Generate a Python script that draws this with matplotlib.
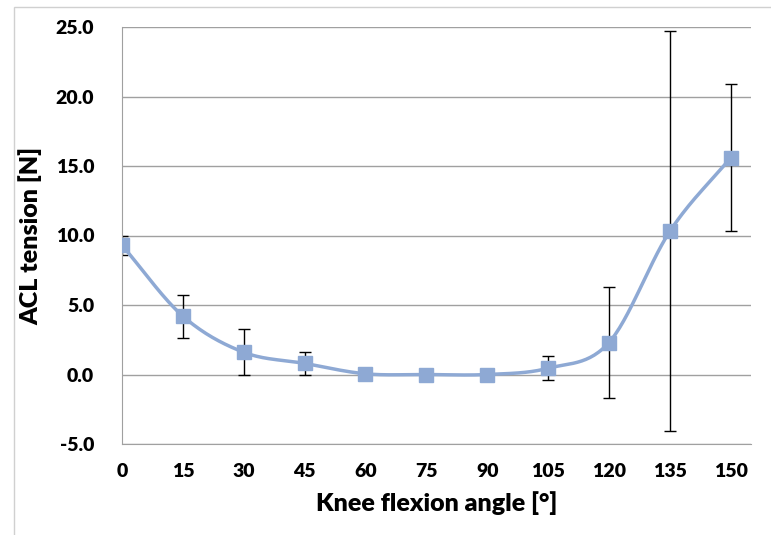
import numpy as np
import matplotlib
matplotlib.use("Agg")
import matplotlib.pyplot as plt
from matplotlib.patches import Rectangle

angles = [0, 15, 30, 45, 60, 75, 90, 105, 120, 135, 150]
tension = [9.3, 4.2, 1.6, 0.8, 0.05, 0.0, 0.0, 0.45, 2.3, 10.3, 15.6]
tension_sd = [0.7, 1.55, 1.65, 0.8, 0.0, 0.0, 0.0, 0.85, 4.0, 14.4, 5.3]
y_ticks = [-5, 0, 5, 10, 15, 20, 25]

plt.rcParams['font.family'] = ['Lato', 'DejaVu Sans']
weight = 'heavy'


def smooth_curve(x, y, n=30):
    # Catmull-Rom style curve through the points, like Excel's smoothed line
    x = np.asarray(x, float)
    y = np.asarray(y, float)
    px = np.concatenate([[2 * x[0] - x[1]], x, [2 * x[-1] - x[-2]]])
    py = np.concatenate([[2 * y[0] - y[1]], y, [2 * y[-1] - y[-2]]])
    xs, ys = [], []
    t = np.linspace(0, 1, n)
    for i in range(1, len(px) - 2):
        p0, p1, p2, p3 = [np.array([px[j], py[j]]) for j in range(i - 1, i + 3)]
        c1 = p1 + (p2 - p0) / 6
        c2 = p2 - (p3 - p1) / 6
        pts = ((1 - t)[:, None] ** 3 * p1 + 3 * ((1 - t) ** 2 * t)[:, None] * c1
               + 3 * ((1 - t) * t ** 2)[:, None] * c2 + (t ** 3)[:, None] * p2)
        xs.extend(pts[:, 0])
        ys.extend(pts[:, 1])
    return np.array(xs), np.array(ys)


fig = plt.figure(figsize=(7.71, 5.35), dpi=100)
fig.patches.append(Rectangle((14 / 771, -0.01), 1.0, 1 - 7 / 535 + 0.01,
                             transform=fig.transFigure, fill=False,
                             edgecolor='#d0d0d0', linewidth=1))
ax = fig.add_axes([122 / 771, 1 - 444 / 535, (751 - 122) / 771, (444 - 27) / 535])

line_color = '#8EA9D4'
sx, sy = smooth_curve(angles, tension)
ax.plot(sx, sy, color=line_color, linewidth=2.5, zorder=3)
ax.errorbar(angles, tension, yerr=tension_sd, fmt='none', ecolor='black',
            elinewidth=1, capsize=4, capthick=1, zorder=2)
ax.plot(angles, tension, 's', color=line_color, markersize=9.5, zorder=4)

ax.set_xlim(0, 155)
ax.set_ylim(-5, 25)
ax.set_xticks(angles)
ax.set_yticks(y_ticks)
ax.set_yticklabels([f"{v:.1f}" for v in y_ticks])
ax.grid(axis='y', color='#a0a0a0', linewidth=1)
ax.set_axisbelow(True)
for s in ['top', 'right']:
    ax.spines[s].set_visible(False)
ax.spines['left'].set_color('#a0a0a0')
ax.spines['bottom'].set_color('#a0a0a0')
ax.tick_params(length=0, labelsize=14, pad=14)
ax.tick_params(axis='y', pad=20)
for lbl in ax.get_xticklabels() + ax.get_yticklabels():
    lbl.set_fontweight(weight)

ax.set_xlabel('Knee flexion angle [°]', fontsize=18, fontweight=weight, labelpad=8)
ax.set_ylabel('ACL tension [N]', fontsize=18, fontweight=weight, labelpad=10)

fig.savefig('out.png', dpi=100)
